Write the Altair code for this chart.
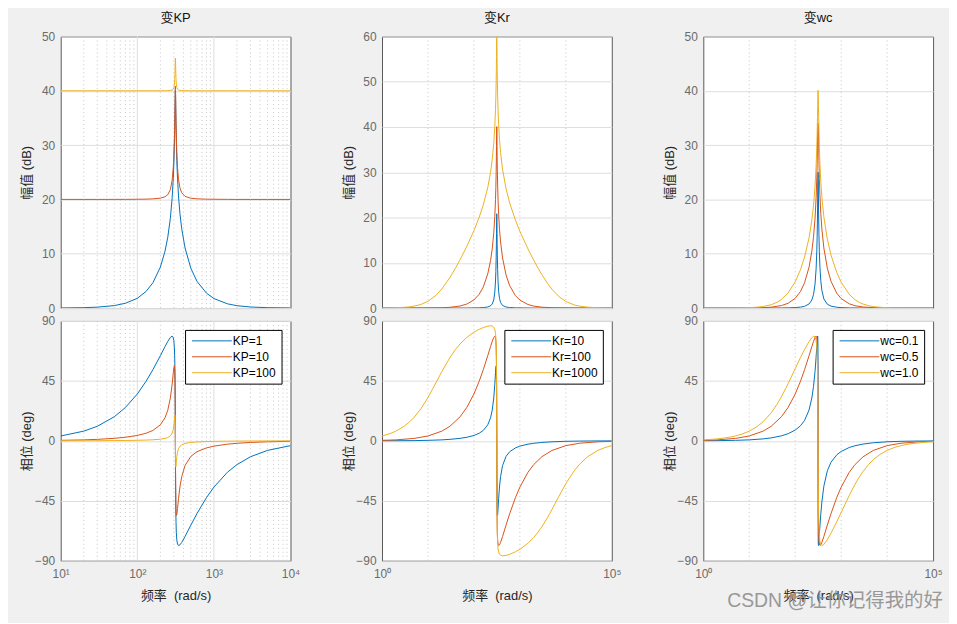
import altair as alt
import pandas as pd

# ---------------- data ----------------
FREQ_P1 = [10, 20, 30, 50, 70, 100, 130, 160, 200, 230, 250, 270, 285, 295, 300, 305, 308, 310, 312, 313,
           314.16, 315.3, 316.3, 318.3, 320, 323, 328, 335, 345, 360, 380, 420, 500, 600, 800, 1000, 1500,
           2000, 3000, 5000, 10000]
FREQ_P23 = [1, 2, 5, 10, 20, 30, 50, 70, 100, 130, 160, 200, 230, 250, 270, 285, 295, 300, 305, 308, 310,
            312, 313, 314.16, 315.3, 316.3, 318.3, 320, 323, 328, 335, 345, 360, 380, 420, 500, 600, 800,
            1000, 1500, 2000, 3000, 5000, 10000, 20000, 50000, 100000]
FREQ_WIDE = [1, 1.5, 2, 3, 4, 5, 7, 10, 15, 20, 30, 40, 50, 70, 100, 130, 160, 200, 230, 250, 270, 285, 295,
             300, 305, 308, 310, 312, 313, 314.16, 315.3, 316.3, 318.3, 320, 323, 328, 335, 345, 360, 380, 420,
             500, 600, 800, 1000, 1500, 2000, 2500, 3000, 4000, 5000, 7000, 10000, 15000, 20000, 30000, 50000,
             70000, 100000]

KP_LABELS = ["KP=1", "KP=10", "KP=100"]
KR_LABELS = ["Kr=10", "Kr=100", "Kr=1000"]
WC_LABELS = ["wc=0.1", "wc=0.5", "wc=1.0"]

# panel 1 : vary KP
KP1_MAG = [0.02, 0.07, 0.16, 0.45, 0.88, 1.79, 3.05, 4.67, 7.54, 10.47, 13.05, 16.52, 20.29, 24.01, 26.62,
           30.19, 33.17, 35.65, 38.39, 39.53, 40.09, 39.54, 38.44, 35.76, 33.65, 30.70, 27.17, 23.84, 20.63,
           17.43, 14.59, 11.06, 7.32, 4.94, 2.74, 1.75, 0.78, 0.43, 0.19, 0.07, 0.02]
KP1_PHASE = [3.64, 7.29, 10.9, 18.07, 25.07, 35.16, 44.69, 53.47, 63.96, 70.77, 74.66, 77.67, 78.63, 77.4,
             75.15, 69.66, 62.07, 52.4, 34.3, 20.1, 0, -19.8, -33.7, -51.85, -60.46, -68.62, -74.5, -77.51,
             -78.61, -78.1, -76.28, -71.81, -63.32, -54.7, -42.63, -34.75, -23.6, -17.85, -11.96, -7.19, -3.6]
KP10_MAG = [20.0, 20.0, 20.0, 20.01, 20.01, 20.03, 20.05, 20.10, 20.23, 20.49, 20.88, 21.81, 23.52, 25.97,
            28.05, 31.24, 34.05, 36.45, 39.15, 40.28, 40.83, 40.29, 39.20, 36.56, 34.51, 31.70, 28.52, 25.84,
            23.71, 22.15, 21.23, 20.56, 20.22, 20.11, 20.05, 20.03, 20.01, 20.0, 20.0, 20.0, 20.0]
KP10_PHASE = [0.37, 0.73, 1.10, 1.87, 2.68, 4.05, 5.70, 7.82, 12.03, 17.33, 23.03, 32.1, 42.57, 51.18, 55.02,
              56.27, 53.0, 46.24, 31.06, 18.35, 0, -18.08, -30.58, -45.81, -52.0, -56.03, -55.54, -50.86,
              -43.46, -34.65, -26.9, -18.54, -11.68, -8.19, -5.30, -3.98, -2.50, -1.84, -1.21, -0.72, -0.36]
KP100_MAG = [40.0, 40.0, 40.0, 40.0, 40.0, 40.0, 40.0, 40.0, 40.01, 40.01, 40.02, 40.06, 40.13, 40.31, 40.55,
             41.16, 42.07, 43.18, 44.82, 45.61, 46.02, 45.62, 44.85, 43.24, 42.26, 41.29, 40.62, 40.30, 40.14,
             40.07, 40.04, 40.02, 40.01, 40.0, 40.0, 40.0, 40.0, 40.0, 40.0, 40.0, 40.0]
KP100_PHASE = [0.04, 0.07, 0.11, 0.19, 0.27, 0.41, 0.57, 0.79, 1.23, 1.80, 2.48, 3.73, 5.73, 8.60, 11.21,
               15.38, 18.49, 19.44, 15.59, 9.81, 0, -9.67, -15.4, -19.42, -18.85, -15.97, -11.82, -8.44, -5.95,
               -4.14, -2.97, -1.94, -1.19, -0.83, -0.53, -0.40, -0.25, -0.18, -0.12, -0.07, -0.04]

# panel 2 : vary Kr
KR10_MAG = [0, 0, 0, 0, 0, 0, 0.01, 0.01, 0.03, 0.05, 0.10, 0.23, 0.49, 0.88, 1.81, 3.52, 5.97, 8.05, 11.24,
            14.05, 16.45, 19.15, 20.28, 20.83, 20.29, 19.20, 16.56, 14.51, 11.70, 8.52, 5.84, 3.71, 2.15, 1.23,
            0.56, 0.22, 0.11, 0.05, 0.03, 0.01, 0, 0, 0, 0, 0, 0, 0]
KR10_PHASE = [0.04, 0.07, 0.18, 0.37, 0.73, 1.10, 1.87, 2.68, 4.05, 5.70, 7.82, 12.03, 17.33, 23.03, 32.1,
              42.57, 51.18, 55.02, 56.27, 53.0, 46.24, 31.06, 18.35, 0, -18.08, -30.58, -45.81, -52.0, -56.03,
              -55.54, -50.86, -43.46, -34.65, -26.9, -18.54, -11.68, -8.19, -5.30, -3.98, -2.50, -1.84, -1.21,
              -0.72, -0.36, -0.18, -0.07, -0.04]
KR100_MAG = [0, 0, 0, 0.02, 0.07, 0.16, 0.45, 0.88, 1.79, 3.05, 4.67, 7.54, 10.47, 13.05, 16.52, 20.29, 24.01,
             26.62, 30.19, 33.17, 35.65, 38.39, 39.53, 40.09, 39.54, 38.44, 35.76, 33.65, 30.70, 27.17, 23.84,
             20.63, 17.43, 14.59, 11.06, 7.32, 4.94, 2.74, 1.75, 0.78, 0.43, 0.19, 0.07, 0.02, 0, 0, 0]
KR100_PHASE = [0.37, 0.73, 1.82, 3.64, 7.29, 10.9, 18.07, 25.07, 35.16, 44.69, 53.47, 63.96, 70.77, 74.66,
               77.67, 78.63, 77.4, 75.15, 69.66, 62.07, 52.4, 34.3, 20.1, 0, -19.8, -33.7, -51.85, -60.46,
               -68.62, -74.5, -77.51, -78.61, -78.1, -76.28, -71.81, -63.32, -54.7, -42.63, -34.75, -23.6,
               -17.85, -11.96, -7.19, -3.6, -1.80, -0.72, -0.36]
KR1000_MAG = [0.02, 0.04, 0.07, 0.16, 0.27, 0.42, 0.79, 1.48, 2.83, 4.21, 6.74, 8.87, 10.68, 13.62,
              17.10, 20.04, 22.80, 26.63, 29.99, 32.75, 36.34, 40.18, 43.92, 46.53, 50.11, 53.09, 55.57, 58.32,
              59.46, 60.01, 59.47, 58.36, 55.68, 53.58, 50.61, 47.08, 43.74, 40.51, 37.28, 34.36, 30.63, 26.37,
              23.21, 19.41, 16.96, 13.06, 10.57,
              8.77, 7.40, 5.45, 4.14, 2.58, 1.45, 0.70, 0.41, 0.19, 0.07, 0.04, 0.02]
KR1000_PHASE = [3.64, 5.45, 7.26, 10.81, 14.29, 17.66, 24.03, 32.48, 43.72, 51.92, 62.5, 68.75, 72.8, 77.7,
                81.57, 83.72, 85.06, 86.10, 86.38, 86.20, 85.37, 83.59, 80.61, 77.50, 71.17, 63.08, 53.07, 34.6,
                20.23, 0, -19.93, -34.1, -52.53, -61.41, -70.03, -76.7, -80.79, -83.37, -85.03, -85.91, -86.37,
                -86.06, -85.21, -83.33, -81.44, -76.9, -72.59,
                -68.49, -64.62, -57.6, -51.55, -41.94, -32.16, -22.74, -17.45, -11.83, -7.16, -5.13, -3.6]

# panel 3 : vary wc
WC01_MAG = [0, 0, 0, 0, 0, 0.01, 0.02, 0.04, 0.09, 0.17, 0.32, 0.75, 1.48, 2.47, 4.41, 7.23, 10.52, 13.04,
            16.75, 20.17, 23.52, 25.0, 25.0, 25.0, 25.0, 25.0, 23.69, 20.78, 17.30, 13.60, 10.36, 7.51, 5.03,
            3.25, 1.68, 0.70, 0.35, 0.15, 0.08, 0.03, 0.02, 0.01, 0, 0, 0, 0, 0]
WC01_PHASE = [0.07, 0.15, 0.37, 0.73, 1.47, 2.21, 3.74, 5.36, 8.06, 11.29, 15.38, 23.15, 32.15, 40.73, 52.25,
              63.05, 70.87, 74.65, 77.8, 78.63, 77.69, 71.9, 60.49, 0, -60.12, -71.65, -77.6, -78.59, -78.05,
              -75.29, -70.57, -63.88, -55.1, -45.94, -34.07, -22.52, -16.09, -10.52, -7.94, -5.0, -3.69, -2.43,
              -1.45, -0.72, -0.36, -0.14, -0.07]
WC05_MAG = [0, 0, 0, 0.02, 0.07, 0.16, 0.45, 0.88, 1.79, 3.05, 4.67, 7.54, 10.47, 13.05, 16.52, 20.29, 24.01,
            26.62, 30.19, 33.17, 34.0, 34.0, 34.0, 34.0, 34.0, 34.0, 34.0, 33.65, 30.70, 27.17, 23.84, 20.63,
            17.43, 14.59, 11.06, 7.32, 4.94, 2.74, 1.75, 0.78, 0.43, 0.19, 0.07, 0.02, 0, 0, 0]
WC05_PHASE = [0.37, 0.73, 1.82, 3.64, 7.29, 10.9, 18.07, 25.07, 35.16, 44.69, 53.47, 63.96, 70.77, 74.66,
              77.67, 78.63, 77.4, 75.15, 69.66, 62.07, 52.4, 34.3, 20.1, 0, -19.8, -33.7, -51.85, -60.46,
              -68.62, -74.5, -77.51, -78.61, -78.1, -76.28, -71.81, -63.32, -54.7, -42.63, -34.75, -23.6,
              -17.85, -11.96, -7.19, -3.6, -1.80, -0.72, -0.36]
WC10_MAG = [0, 0, 0, 0.01, 0.01, 0.02, 0.04, 0.07, 0.16, 0.28, 0.61, 1.05, 1.57, 2.78,
            4.84, 7.05, 9.40, 12.94, 16.18, 18.88, 22.41, 26.15, 29.71, 32.08, 35.05, 37.12, 38.49, 39.60,
            39.94, 40.09, 39.95, 39.61, 38.54, 37.42, 35.42, 32.57, 29.55, 26.48, 23.32, 20.46, 16.80, 12.69,
            9.77, 6.55, 4.74, 2.51, 1.53,
            1.02, 0.73, 0.42, 0.27, 0.14, 0.07, 0.03, 0.02, 0.01, 0, 0, 0]
WC10_PHASE = [0.73, 1.09, 1.46, 2.19, 2.92, 3.64, 5.10, 7.26, 10.83, 14.33, 21.05, 27.31, 33.04, 42.9,
              54.23, 62.49, 68.63, 74.53, 77.47, 78.53, 78.21, 75.65, 70.59, 65.25, 55.11, 44.15, 33.33, 18.86,
              10.35, 0, -10.18, -18.54, -32.82, -42.14, -53.44, -63.9, -70.89, -75.3, -77.8, -78.62, -77.82,
              -74.21, -69.41, -60.87, -53.81, -41.0, -32.68,
              -26.99, -22.92, -17.53, -14.15, -10.2, -7.17, -4.79, -3.6, -2.4, -1.44, -1.03, -0.72]

# grid lines / ticks
P1_MINOR_GRID = [20, 30, 40, 50, 60, 70, 80, 90, 200, 300, 400, 500, 600, 700, 800, 900,
                 2000, 3000, 4000, 5000, 6000, 7000, 8000, 9000]
P1_MAJOR_GRID = [100, 1000]
P23_GRID = [10, 100, 1000, 10000]
P1_XTICKS = [10, 100, 1000, 10000]
P23_XTICKS = [1, 100000]
MAG_TICKS_50 = [0, 10, 20, 30, 40, 50]
MAG_TICKS_60 = [0, 10, 20, 30, 40, 50, 60]
PHASE_TICKS = [-90, -45, 0, 45, 90]

TITLES = ["变KP", "变Kr", "变wc"]
MAG_TITLE = "幅值 (dB)"
PHASE_TITLE = "相位 (deg)"
FREQ_TITLE = "频率\u00a0\u00a0(rad/s)"
WATERMARK = "CSDN @让你记得我的好"

SERIES_COLORS = ["#0072BD", "#D95319", "#EDB120"]
FONT = "Liberation Sans, Noto Sans CJK SC, sans-serif"

PW, TOP_H, BOT_H = 231, 273, 241

LABEL_EXPR = ("datum.value == 1 ? '10⁰' : datum.value == 10 ? '10¹' : datum.value == 100 ? '10²' : "
              "datum.value == 1000 ? '10³' : datum.value == 10000 ? '10⁴' : '10⁵'")


def make_df(series):
    rows = []
    for lab, freq, m, p in series:
        assert len(m) == len(freq) and len(p) == len(freq), lab
        for f, mv, pv in zip(freq, m, p):
            rows.append({"w": f, "mag": mv, "phase": pv, "series": lab})
    return pd.DataFrame(rows)


def grid_layers(xs, minor, major, axis):
    layers = []
    if minor:
        layers.append(alt.Chart(pd.DataFrame({"w": minor})).mark_rule(
            color="#c6c6c6", strokeDash=[1, 3], strokeWidth=1).encode(
            x=alt.X("w:Q", scale=xs, axis=axis)))
    if major:
        layers.append(alt.Chart(pd.DataFrame({"w": major})).mark_rule(
            color="#dedede", strokeWidth=1).encode(
            x=alt.X("w:Q", scale=xs, axis=axis)))
    return layers


def column(df, labels, xdom, xticks, minor, major, mag_dom, mag_ticks, title, watermark=False):
    xs = alt.Scale(type="log", domain=xdom, nice=False)
    cscale = alt.Scale(domain=labels, range=SERIES_COLORS)

    top_lines = alt.Chart(df).mark_line(strokeWidth=1, clip=True).encode(
        x=alt.X("w:Q", scale=xs, axis=None),
        y=alt.Y("mag:Q", scale=alt.Scale(domain=mag_dom, nice=False, zero=False),
                axis=alt.Axis(values=mag_ticks, title=MAG_TITLE, grid=True, titleX=-34,
                              titleY=TOP_H / 2, titleBaseline="middle", labelPadding=6)),
        color=alt.Color("series:N", scale=cscale, legend=None),
    )
    top = alt.layer(*grid_layers(xs, minor, major, None), top_lines).properties(
        width=PW, height=TOP_H,
        title=alt.TitleParams(title, offset=6, fontSize=13, fontWeight="normal", font=FONT, color="#111111"))

    xaxis = alt.Axis(values=xticks, labelExpr=LABEL_EXPR, grid=False, title=FREQ_TITLE, labelFlush=False,
                     labelPadding=8, titleX=PW / 2, titleY=35, titleBaseline="middle")
    bot_lines = alt.Chart(df).mark_line(strokeWidth=1, clip=True).encode(
        x=alt.X("w:Q", scale=xs, axis=xaxis),
        y=alt.Y("phase:Q", scale=alt.Scale(domain=[-90, 90], nice=False, zero=False),
                axis=alt.Axis(values=PHASE_TICKS, title=PHASE_TITLE, grid=True, titleX=-34,
                              titleY=BOT_H / 2, titleBaseline="middle", labelPadding=6)),
        color=alt.Color("series:N", scale=cscale,
                        legend=alt.Legend(orient="top-right", title=None, symbolType="M-5,0H5",
                                          symbolSize=64, symbolStrokeWidth=1, symbolOffset=16,
                                          labelFontSize=12, labelFont=FONT, labelColor="#000000",
                                          strokeColor="#000000", fillColor="white", padding=5, offset=9,
                                          rowPadding=4, cornerRadius=0, labelOffset=15)),
    )
    blayers = grid_layers(xs, minor, major, xaxis) + [bot_lines]
    if watermark:
        blayers.append(alt.Chart(pd.DataFrame({"t": [WATERMARK]})).mark_text(
            align="left", baseline="middle", fontSize=19.5, font=FONT, color="#8f8f8f", opacity=0.9).encode(
            text="t:N", x=alt.value(24), y=alt.value(282)))
    bottom = alt.layer(*blayers).properties(width=PW, height=BOT_H)

    return alt.vconcat(top, bottom, spacing=13, bounds="flush").resolve_scale(
        color="independent", x="independent", y="independent")


df1 = make_df([(KP_LABELS[0], FREQ_P1, KP1_MAG, KP1_PHASE),
               (KP_LABELS[1], FREQ_P1, KP10_MAG, KP10_PHASE),
               (KP_LABELS[2], FREQ_P1, KP100_MAG, KP100_PHASE)])
df2 = make_df([(KR_LABELS[0], FREQ_P23, KR10_MAG, KR10_PHASE),
               (KR_LABELS[1], FREQ_P23, KR100_MAG, KR100_PHASE),
               (KR_LABELS[2], FREQ_WIDE, KR1000_MAG, KR1000_PHASE)])
df3 = make_df([(WC_LABELS[0], FREQ_P23, WC01_MAG, WC01_PHASE),
               (WC_LABELS[1], FREQ_P23, WC05_MAG, WC05_PHASE),
               (WC_LABELS[2], FREQ_WIDE, WC10_MAG, WC10_PHASE)])

col1 = column(df1, KP_LABELS, [10, 10000], P1_XTICKS, P1_MINOR_GRID, P1_MAJOR_GRID, [0, 50], MAG_TICKS_50, TITLES[0])
col2 = column(df2, KR_LABELS, [1, 100000], P23_XTICKS, P23_GRID, [], [0, 60], MAG_TICKS_60, TITLES[1])
col3 = column(df3, WC_LABELS, [1, 100000], P23_XTICKS, P23_GRID, [], [0, 50], MAG_TICKS_50, TITLES[2],
              watermark=True)

chart = alt.hconcat(col1, col2, col3, spacing=41).resolve_scale(
    color="independent", x="independent", y="independent").resolve_legend(color="independent")

chart = chart.configure(
    background="#f0f0f0", padding={"left": 12, "top": 1, "right": 5, "bottom": 10}, font=FONT
).configure_view(
    stroke="#5a5a5a", strokeWidth=1, fill="white"
).configure_axis(
    labelFont=FONT, titleFont=FONT, labelFontSize=12, titleFontSize=13, labelColor="#6b6b6b",
    titleColor="#262626", titleFontWeight="normal", domain=False, ticks=False,
    gridColor="#dedede", gridWidth=1
)

chart.save("out.html", embed_options={"renderer": "svg", "actions": False})
